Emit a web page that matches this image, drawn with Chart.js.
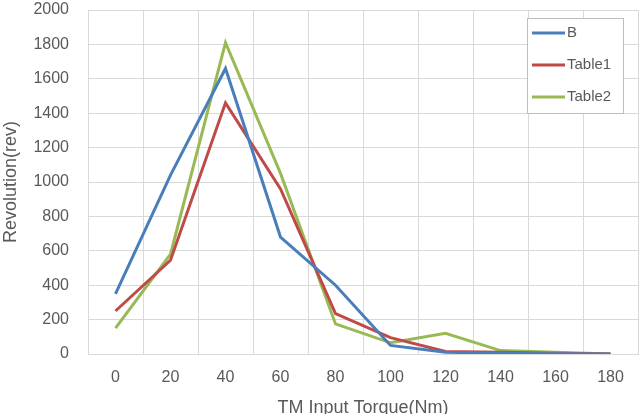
<!DOCTYPE html>
<html>
<head>
<meta charset="utf-8">
<script src="https://cdn.jsdelivr.net/npm/chart.js@4"></script>
<style>
  html, body { margin: 0; padding: 0; background: #fff; overflow: hidden; }
  #wrap { width: 640px; height: 414px; overflow: hidden; }
</style>
</head>
<body>
<div id="wrap"><canvas id="chart" width="640" height="423"></canvas></div>
<script>
const torque = ['0', '20', '40', '60', '80', '100', '120', '140', '160', '180'];
const seriesB = [350, 1040, 1660, 680, 400, 50, 10, 5, 2, 0];
const seriesTable1 = [250, 545, 1460, 960, 235, 95, 15, 10, 5, 0];
const seriesTable2 = [150, 580, 1810, 1050, 175, 65, 120, 20, 10, 0];

const textColor = '#595959';
const gridColor = '#d9d9d9';
const fontFamily = '"Liberation Sans", Arial, sans-serif';

// legend box drawn inside the plot area, like the Excel original
const boxLegend = {
  id: 'boxLegend',
  afterDraw(chart) {
    const ctx = chart.ctx;
    const area = chart.chartArea;
    const w = 96, h = 95;
    const x = area.right - 15 - w;
    const y = area.top + 8;
    ctx.save();
    ctx.fillStyle = '#fff';
    ctx.fillRect(x, y, w, h);
    ctx.strokeStyle = '#bfbfbf';
    ctx.lineWidth = 1;
    ctx.strokeRect(x + 0.5, y + 0.5, w, h);
    ctx.font = '15px ' + fontFamily;
    ctx.textBaseline = 'middle';
    chart.data.datasets.forEach((ds, i) => {
      const ly = y + 15 + i * 32;
      ctx.strokeStyle = ds.borderColor;
      ctx.lineWidth = 3;
      ctx.beginPath();
      ctx.moveTo(x + 5, ly);
      ctx.lineTo(x + 38, ly);
      ctx.stroke();
      ctx.fillStyle = textColor;
      ctx.fillText(ds.label, x + 40, ly);
    });
    ctx.restore();
  }
};

new Chart(document.getElementById('chart'), {
  type: 'line',
  data: {
    labels: torque,
    datasets: [
      { label: 'B', data: seriesB, borderColor: '#4a7ebb' },
      { label: 'Table1', data: seriesTable1, borderColor: '#be4b48' },
      { label: 'Table2', data: seriesTable2, borderColor: '#98b954' }
    ]
  },
  options: {
    responsive: false,
    animation: false,
    layout: { padding: { top: 0, right: 2, left: 0, bottom: 0 } },
    elements: {
      line: { borderWidth: 3, tension: 0 },
      point: { radius: 0 }
    },
    plugins: {
      legend: { display: false },
      tooltip: { enabled: false }
    },
    scales: {
      x: {
        offset: true,
        grid: { offset: true, color: gridColor, drawTicks: false },
        border: { color: gridColor },
        ticks: { color: textColor, padding: 14, font: { family: fontFamily, size: 16 } },
        title: { display: true, text: 'TM Input Torque(Nm)', color: textColor, font: { family: fontFamily, size: 18 }, padding: { top: 4, bottom: 4 } },
        afterFit(scale) { scale.height = 69; }
      },
      y: {
        min: 0,
        max: 2000,
        grid: { color: gridColor, drawTicks: false },
        border: { color: gridColor },
        ticks: { stepSize: 200, color: textColor, padding: 19, font: { family: fontFamily, size: 16 }, callback: v => String(v) },
        title: { display: true, text: 'Revolution(rev)', color: textColor, font: { family: fontFamily, size: 18 }, padding: { top: 0, bottom: 8 } },
        afterFit(scale) {
          scale.width = 88;
          scale.paddingTop = 10;
        }
      }
    }
  },
  plugins: [boxLegend]
});
</script>
</body>
</html>
